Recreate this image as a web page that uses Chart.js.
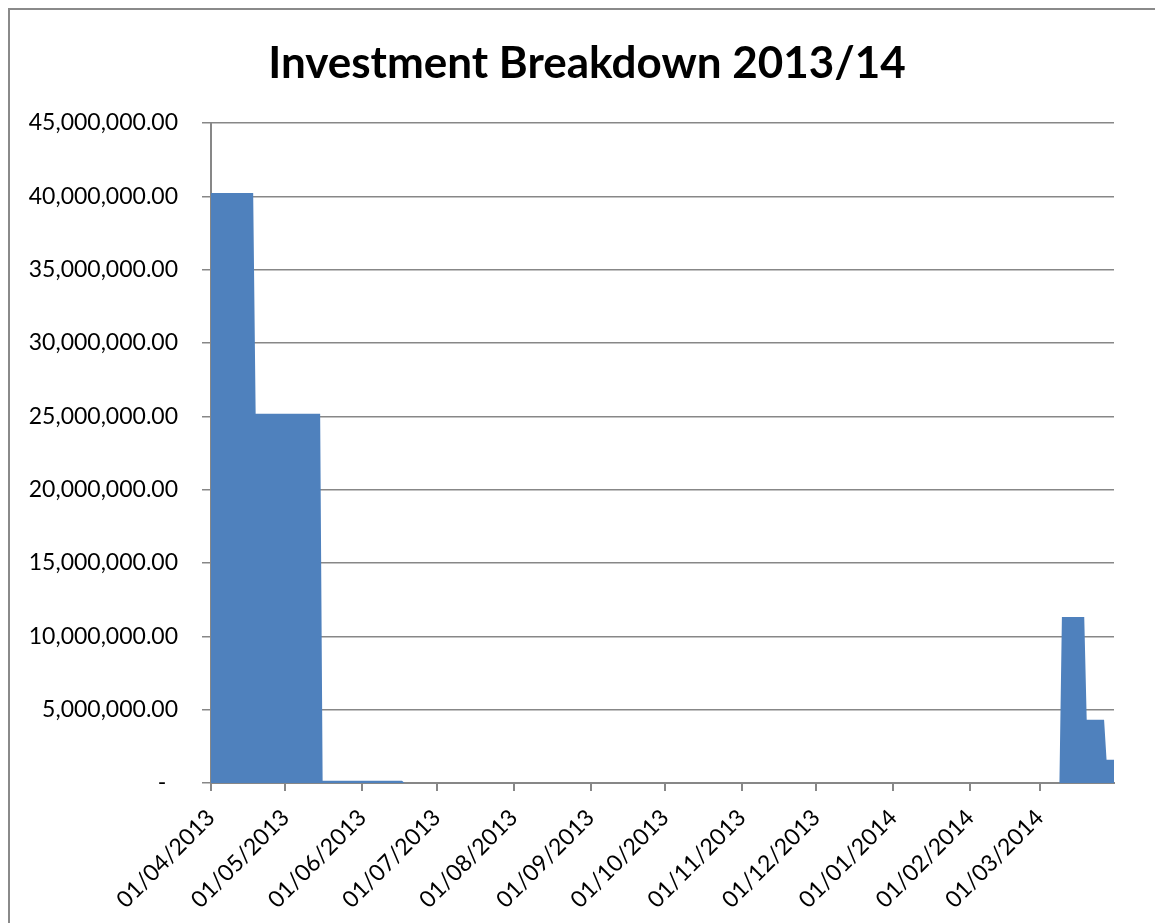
<!DOCTYPE html>
<html>
<head>
<meta charset="utf-8">
<title>Investment Breakdown 2013/14</title>
<script src="https://cdn.jsdelivr.net/npm/chart.js@4"></script>
<style>
  html, body { margin: 0; padding: 0; background: #fff; }
  canvas { display: block; }
</style>
</head>
<body>
<canvas id="investChart" width="1155" height="923"></canvas>
<script>
// data
const dates = ['2013-04-01', '2013-04-18', '2013-04-19', '2013-05-15', '2013-05-16', '2013-06-17', '2013-06-18',
  '2014-03-09', '2014-03-10', '2014-03-19', '2014-03-20', '2014-03-27', '2014-03-28', '2014-03-31'];
const values = [40220000, 40220000, 25170000, 25170000, 160000, 160000, 0,
  0, 11320000, 11320000, 4320000, 4320000, 1590000, 1590000];
const monthStarts = ['2013-04-01', '2013-05-01', '2013-06-01', '2013-07-01', '2013-08-01', '2013-09-01',
  '2013-10-01', '2013-11-01', '2013-12-01', '2014-01-01', '2014-02-01', '2014-03-01'];
const tickLabels = ['01/04/2013', '01/05/2013', '01/06/2013', '01/07/2013', '01/08/2013', '01/09/2013',
  '01/10/2013', '01/11/2013', '01/12/2013', '01/01/2014', '01/02/2014', '01/03/2014'];
const axisEnd = '2014-03-31';
const chartTitle = 'Investment Breakdown 2013/14';

// days since 01/04/2013
const start = Date.UTC(2013, 3, 1);
const dayOf = s => {
  const [y, m, d] = s.split('-').map(Number);
  return Math.round((Date.UTC(y, m - 1, d) - start) / 86400000);
};

const points = dates.map((d, i) => ({ x: dayOf(d), y: values[i] }));
const tickDays = monthStarts.map(dayOf);

const fmt = v => v === 0 ? '-  ' : v.toLocaleString('en-US', { minimumFractionDigits: 2, maximumFractionDigits: 2 });

// outer frame + title, placed like the Excel chart
const framePlugin = {
  id: 'frame',
  beforeDraw(chart) {
    const c = chart.ctx;
    c.save();
    c.fillStyle = '#fff';
    c.fillRect(0, 0, chart.width, chart.height);
    c.strokeStyle = '#8a8a8a';
    c.lineWidth = 2;
    c.strokeRect(9, 9, chart.width + 20, chart.height + 20);
    c.restore();
  },
  afterDraw(chart) {
    const c = chart.ctx;
    c.save();
    c.fillStyle = '#000';
    c.font = 'bold 44px Lato';
    c.textAlign = 'center';
    c.textBaseline = 'middle';
    c.fillText(chartTitle, 587, 64);
    c.restore();
  }
};

const gridGray = '#878787';

new Chart(document.getElementById('investChart'), {
  type: 'line',
  data: {
    datasets: [{
      label: 'Investment',
      data: points,
      fill: 'origin',
      backgroundColor: '#4f81bd',
      borderColor: '#4f81bd',
      borderWidth: 0,
      pointRadius: 0,
      tension: 0
    }]
  },
  options: {
    responsive: false,
    animation: false,
    layout: { padding: { left: 0, right: 41, top: 123, bottom: 0 } },
    plugins: {
      legend: { display: false },
      tooltip: { enabled: false },
      title: { display: false }
    },
    scales: {
      x: {
        type: 'linear',
        min: 0,
        max: dayOf(axisEnd),
        afterBuildTicks: scale => { scale.ticks = tickDays.map(v => ({ value: v })); },
        afterFit: scale => { scale.height = 140; },
        grid: { drawOnChartArea: false, drawTicks: true, tickLength: 8, color: gridGray, lineWidth: 2 },
        border: { color: gridGray, width: 2 },
        ticks: {
          autoSkip: false,
          minRotation: 45,
          maxRotation: 45,
          padding: 13,
          color: '#000',
          font: { family: 'Lato', size: 23 },
          callback: (v, i) => tickLabels[i]
        }
      },
      y: {
        min: 0,
        max: 45000000,
        afterFit: scale => { scale.width = 211; },
        grid: { color: gridGray, lineWidth: 1.5, tickLength: 9 },
        border: { color: gridGray, width: 2 },
        ticks: {
          stepSize: 5000000,
          padding: 24,
          color: '#000',
          font: { family: 'Lato', size: 23 },
          callback: v => fmt(v)
        }
      }
    }
  },
  plugins: [framePlugin]
});
</script>
</body>
</html>
